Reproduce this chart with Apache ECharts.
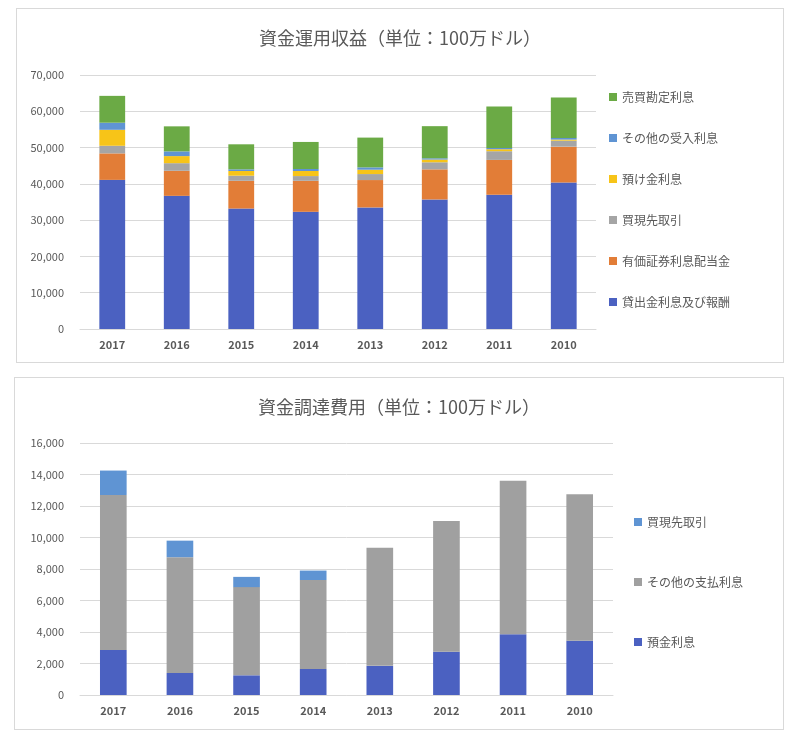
<!DOCTYPE html>
<html>
<head>
<meta charset="utf-8">
<script src="https://cdn.jsdelivr.net/npm/echarts@6/dist/echarts.min.js"></script>
<style>
  body { margin: 0; background: #fff; }
  .box { position: absolute; border: 1px solid #d9d9d9; background: #fff; box-sizing: border-box; }
</style>
</head>
<body>
<div id="c1" class="box" style="left:16px; top:8px; width:768px; height:355px;"></div>
<div id="c2" class="box" style="left:14px; top:377px; width:770px; height:353px;"></div>
<script>
// 年（Excelの並び順そのまま）
const years = ['2017', '2016', '2015', '2014', '2013', '2012', '2011', '2010'];

// 資金運用収益
const loanInterest   = [41100, 36700, 33200, 32300, 33500, 35700, 37000, 40400]; // 貸出金利息及び報酬
const securities     = [7300, 6900, 7650, 8550, 7550, 8300, 9600, 9850];        // 有価証券利息配当金
const repoIncome     = [2100, 2100, 1400, 1300, 1650, 1950, 2400, 1650];        // 買現先取引
const depositIncome  = [4400, 1950, 1300, 1400, 1200, 750, 550, 300];           // 預け金利息
const otherIncome    = [1950, 1300, 450, 550, 650, 350, 350, 450];             // その他の受入利息
const tradingIncome  = [7400, 6900, 6900, 7450, 8200, 8850, 11450, 11150];     // 売買勘定利息

// 資金調達費用
const depositCost = [2850, 1400, 1250, 1650, 1850, 2750, 3850, 3450];           // 預金利息
const otherCost   = [9850, 7350, 5600, 5650, 7500, 8300, 9750, 9300];           // その他の支払利息
const repoCost    = [1550, 1050, 650, 600, 0, 0, 0, 0];                         // 買現先取引

const FONT = '"Noto Sans CJK JP", "Noto Sans", sans-serif';
const GRAY = '#595959';

function baseOption(title) {
    return {
        textStyle: { fontFamily: FONT },
        title: {
            text: title,
            left: 'center',
            top: 15,
            textStyle: { color: GRAY, fontSize: 18, fontWeight: 400, fontFamily: FONT }
        },
        xAxis: {
            type: 'category',
            data: years,
            axisLine: { lineStyle: { color: '#d9d9d9' } },
            axisTick: { show: false },
            axisLabel: { color: GRAY, fontSize: 11, fontWeight: 'bold', margin: 10, fontFamily: FONT }
        },
        yAxis: {
            type: 'value',
            min: 0,
            axisLine: { show: false },
            axisTick: { show: false },
            splitLine: { lineStyle: { color: '#d9d9d9' } },
            axisLabel: {
                color: GRAY, fontSize: 11, margin: 16, fontFamily: FONT,
                formatter: v => v.toLocaleString('en-US')
            }
        }
    };
}

function bar(name, data, color) {
    return { name: name, type: 'bar', stack: 'all', data: data, barWidth: '40%', itemStyle: { color: color } };
}

// 上のグラフ
const chart1 = echarts.init(document.getElementById('c1'));
const opt1 = baseOption('資金運用収益（単位：100万ドル）');
opt1.grid = { left: 63, top: 66, width: 516, height: 254 };
opt1.yAxis.max = 70000;
opt1.yAxis.interval = 10000;
opt1.legend = {
    orient: 'vertical',
    left: 587,
    top: 77,
    itemWidth: 8,
    itemHeight: 8,
    itemGap: 29,
    icon: 'rect',
    textStyle: { color: GRAY, fontSize: 12, fontFamily: FONT },
    data: ['売買勘定利息', 'その他の受入利息', '預け金利息', '買現先取引', '有価証券利息配当金', '貸出金利息及び報酬']
};
opt1.series = [
    bar('貸出金利息及び報酬', loanInterest, '#4B61C1'),
    bar('有価証券利息配当金', securities, '#E27D37'),
    bar('買現先取引', repoIncome, '#A5A5A5'),
    bar('預け金利息', depositIncome, '#F7C418'),
    bar('その他の受入利息', otherIncome, '#5F94D3'),
    bar('売買勘定利息', tradingIncome, '#6BAA45')
];
chart1.setOption(opt1);

// 下のグラフ
const chart2 = echarts.init(document.getElementById('c2'));
const opt2 = baseOption('資金調達費用（単位：100万ドル）');
opt2.grid = { left: 65, top: 65, width: 533, height: 252 };
opt2.yAxis.max = 16000;
opt2.yAxis.interval = 2000;
opt2.legend = {
    orient: 'vertical',
    left: 614,
    top: 133,
    itemWidth: 8,
    itemHeight: 8,
    itemGap: 48,
    icon: 'rect',
    textStyle: { color: GRAY, fontSize: 12, fontFamily: FONT },
    data: ['買現先取引', 'その他の支払利息', '預金利息']
};
opt2.series = [
    bar('預金利息', depositCost, '#4B61C1'),
    bar('その他の支払利息', otherCost, '#A0A0A0'),
    bar('買現先取引', repoCost, '#5F94D3')
];
chart2.setOption(opt2);
</script>
</body>
</html>
